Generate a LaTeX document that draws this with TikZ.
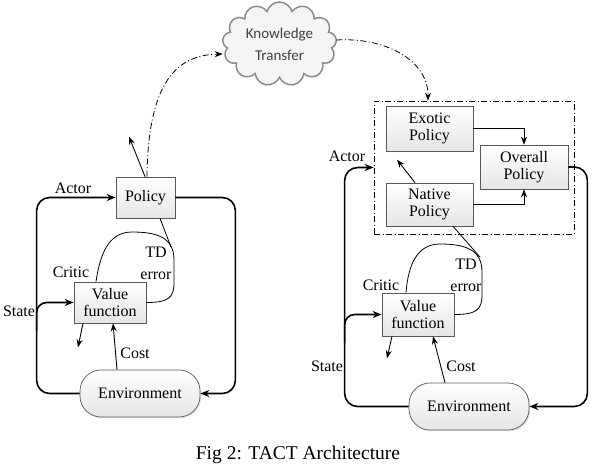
\documentclass[tikz,border=0pt]{standalone}
\usepackage{fontspec}
\setmainfont{Liberation Serif}
\newfontfamily\cloudfont{Carlito}
\usetikzlibrary{arrows.meta,shapes.symbols,shadows}
\begin{document}
\begin{tikzpicture}[x=1pt,y=-1pt,
  box/.style={draw=black!65, line width=0.7pt, top color=white, bottom color=black!10,
    drop shadow={shadow xshift=1.2pt,shadow yshift=-1.2pt,opacity=0.25},
    align=center, inner sep=0pt, font=\rmfamily\fontsize{16}{17}\selectfont},
  envbox/.style={box, rounded corners=21pt},
  lab/.style={inner sep=0pt, font=\rmfamily\fontsize{16}{17}\selectfont},
  mainloop/.style={line width=1.6pt, rounded corners=13pt, -{Stealth[length=9pt,width=7pt]}},
  arr/.style={line width=0.9pt, -{Stealth[length=8pt,width=6pt]}},
  thinline/.style={line width=0.8pt},
  dashdot/.style={line width=0.8pt, dash pattern=on 6pt off 2.5pt on 1pt off 2.5pt},
  dashdotarr/.style={dashdot, -{Stealth[length=8pt,width=6pt]}}
]
\useasboundingbox (0,0) rectangle (595,466);

% ---------- cloud ----------
\node[cloud, cloud puffs=13, cloud ignores aspect, minimum width=114pt, minimum height=84pt,
  draw=black!45, line width=1.5pt, fill=black!4, align=center,
  font=\cloudfont\fontsize{15}{22}\selectfont, text=black!75] (cloud) at (279.5,44) {Knowledge\\Transfer};

% ---------- left diagram ----------
\node[box, minimum width=59pt, minimum height=41pt] (policyL) at (145.5,197.5) {Policy};
\node[box, minimum width=72pt, minimum height=41pt] (valueL) at (110,302.5) {Value\\function};
\node[envbox, minimum width=120pt, minimum height=47pt] (envL) at (140,393.5) {Environment};

\draw[mainloop] (envL.west) -- ++(-43,0) |- (policyL.west);
\draw[mainloop] (policyL.east) -- ++(60,0) |- (envL.east);
\draw[line width=1.6pt, rounded corners=10pt, {Stealth[length=9pt,width=7pt]}-] (valueL.west) -- ++(-37,0) -- ++(0,28);
\draw[arr] ([xshift=-23pt]envL.north) -- ([xshift=3pt]valueL.south);
\draw[arr] ([xshift=-27pt]valueL.south) -- ++(-5,24);
\draw[thinline] ([xshift=-14pt]valueL.north) .. controls (100,255) and (108,232) .. (132,232)
  .. controls (158,232) and (174,238) .. (174,260) -- (174,283)
  .. controls (174,298) and (168,302.5) .. (valueL.east);
\coordinate (tdL) at (171,247);
\draw[thinline] ([xshift=14.5pt]policyL.south) -- (tdL);
\draw[arr] ([xshift=-0.5pt]policyL.north) -- ++(-16,-40);
\draw[dashdotarr] ([xshift=1.5pt]policyL.north) .. controls (148,80) and (178,55) .. ([yshift=-10pt]cloud.west);

\node[lab] (actorL) at (73,188) {Actor};
\node[lab] (criticL) at (71,272) {Critic};
\node[lab] (stateL) at (19,311) {State};
\node[lab] (costL) at (135,353) {Cost};
\node[lab, align=center, font=\rmfamily\fontsize{16}{22}\selectfont] (tdtL) at (156,263) {TD\\error};

% ---------- right diagram ----------
\node[draw, line width=0.8pt, dash pattern=on 6pt off 2.5pt on 1pt off 2.5pt,
  minimum width=200pt, minimum height=133pt, inner sep=0pt] (dbox) at (474,167.5) {};
\node[box, minimum width=87pt, minimum height=45pt] (exotic) at (429.5,128.5) {Exotic\\Policy};
\node[box, minimum width=88pt, minimum height=44pt] (overall) at (524,167) {Overall\\Policy};
\node[box, minimum width=87pt, minimum height=43pt] (native) at (429.5,204.5) {Native\\Policy};
\node[box, minimum width=72pt, minimum height=43pt] (valueR) at (418,314.5) {Value\\function};
\node[envbox, minimum width=120pt, minimum height=47pt] (envR) at (469,406.5) {Environment};

\draw[arr, line width=0.7pt] (exotic.east) -| (overall.north);
\draw[arr, line width=0.7pt] (native.east) -| (overall.south);
\draw[arr] ([xshift=-14.5pt]native.north) -- ++(-18,-23);

\draw[mainloop] (envR.west) -- ++(-64,0) |- (dbox.west);
\draw[mainloop] (overall.east) -- ++(19,0) |- (envR.east);
\draw[line width=1.6pt, rounded corners=10pt, {Stealth[length=9pt,width=7pt]}-] (valueR.west) -- ++(-37,0) -- ++(0,28);
\draw[arr] ([xshift=-24pt]envR.north) -- ([xshift=15pt]valueR.south);
\draw[arr] ([xshift=-26pt]valueR.south) -- ++(-5,22);
\draw[thinline] ([xshift=-12pt]valueR.north) .. controls (408,267) and (416,244) .. (440,244)
  .. controls (466,244) and (482,250) .. (482,272) -- (482,295)
  .. controls (482,310) and (476,314.5) .. (valueR.east);
\coordinate (tdR) at (480,257);
\draw[thinline] ([xshift=23.5pt]native.south) -- (tdR);
\draw[dashdotarr] ([yshift=4pt]cloud.east) .. controls (385,37) and (428,60) .. ([xshift=-46pt]dbox.north);

\node[lab] (actorR) at (347,156) {Actor};
\node[lab] (criticR) at (381,285) {Critic};
\node[lab] (stateR) at (327,366) {State};
\node[lab] (costR) at (461,366) {Cost};
\node[lab, align=center, font=\rmfamily\fontsize{16}{22}\selectfont] (tdtR) at (466,275) {TD\\error};

% ---------- caption ----------
\node[inner sep=0pt, font=\rmfamily\fontsize{19.5}{21}\selectfont] (caption) at (298,455) {Fig 2: TACT Architecture};
\end{tikzpicture}
\end{document}
